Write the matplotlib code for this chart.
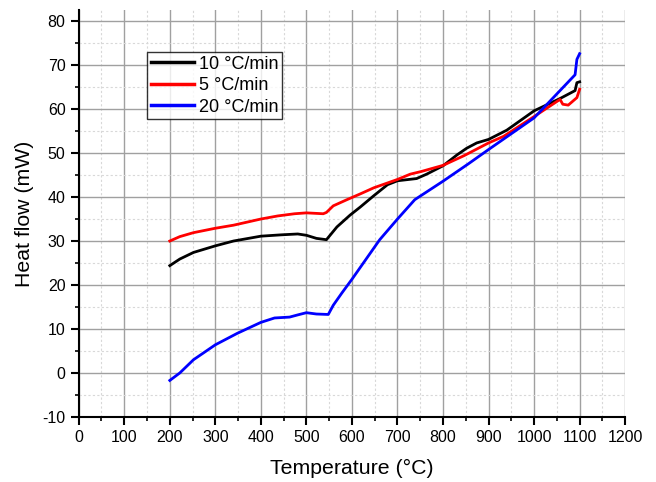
import numpy as np
import matplotlib
matplotlib.use("Agg")
import matplotlib.pyplot as plt
from matplotlib.ticker import MultipleLocator

plt.rcParams["font.family"] = ["Liberation Sans", "DejaVu Sans"]
plt.rcParams["axes.unicode_minus"] = False

# 10 C/min
t10 = [200, 222, 252, 300, 340, 400, 444, 481, 500, 522, 544, 567, 596, 618, 648, 678, 700,
       742, 764, 800, 831, 852, 874, 900, 940, 1000, 1057, 1090, 1094, 1100]
hf10 = [24.4, 25.9, 27.4, 28.9, 30.0, 31.1, 31.4, 31.6, 31.3, 30.6, 30.3, 33.2, 35.9, 37.7, 40.3, 42.8, 43.7,
        44.2, 45.2, 47.1, 49.6, 51.1, 52.3, 53.1, 55.2, 59.6, 62.4, 64.2, 66.0, 66.2]

# 5 C/min
t5 = [200, 222, 252, 300, 340, 400, 437, 474, 500, 537, 544, 559, 589, 618, 648, 700, 728,
      752, 800, 846, 900, 933, 1000, 1057, 1063, 1075, 1094, 1100]
hf5 = [30.0, 31.0, 31.9, 32.9, 33.6, 35.0, 35.7, 36.2, 36.4, 36.2, 36.5, 38.0, 39.4, 40.7, 42.1, 44.0, 45.2,
       45.8, 47.2, 49.4, 52.3, 53.8, 58.3, 62.2, 61.1, 60.9, 62.6, 64.5]

# 20 C/min
t20 = [200, 222, 252, 300, 348, 400, 430, 463, 481, 500, 522, 548, 559, 578, 600, 661, 700,
       738, 800, 855, 900, 1000, 1090, 1094, 1100]
hf20 = [-1.7, 0.0, 3.0, 6.4, 9.0, 11.5, 12.5, 12.7, 13.2, 13.7, 13.4, 13.3, 15.4, 18.2, 21.3, 30.3, 35.0,
        39.4, 43.6, 47.5, 50.8, 58.0, 67.8, 71.3, 72.6]

fig = plt.figure(figsize=(6.56, 4.82), dpi=100)
ax = fig.add_axes([0.120, 0.135, 0.833, 0.844])

ax.plot(t10, hf10, color="black", lw=2, label="10 °C/min")
ax.plot(t5, hf5, color="#ff0000", lw=2, label="5 °C/min")
ax.plot(t20, hf20, color="#0000ff", lw=2, label="20 °C/min")

ax.set_xlim(0, 1200)
ax.set_ylim(-10, 82.5)
ax.xaxis.set_major_locator(MultipleLocator(100))
ax.xaxis.set_minor_locator(MultipleLocator(50))
ax.yaxis.set_major_locator(MultipleLocator(10))
ax.yaxis.set_minor_locator(MultipleLocator(5))
ax.set_yticks(np.arange(-10, 81, 10))

ax.grid(which="major", color="#a0a0a0", lw=1, ls="-")
ax.grid(which="minor", color="#d8d8d8", lw=0.8, ls=(0, (2, 2)))
ax.set_axisbelow(True)

for s in ["top", "right"]:
    ax.spines[s].set_visible(False)
for s in ["left", "bottom"]:
    ax.spines[s].set_linewidth(1.5)

ax.tick_params(which="major", direction="out", length=6, width=1.5, labelsize=11.5)
ax.tick_params(which="minor", direction="out", length=3, width=1.2)

ax.set_xlabel("Temperature (°C)", fontsize=15.3, labelpad=10)
ax.set_ylabel("Heat flow (mW)", fontsize=15.3, labelpad=6)

leg = ax.legend(loc="upper left", bbox_to_anchor=(0.125, 0.897), fontsize=13,
                frameon=True, fancybox=False, edgecolor="black", handlelength=2.4,
                borderpad=0.2, labelspacing=0.25, handletextpad=0.3, borderaxespad=0)
leg.get_frame().set_linewidth(1)
for line in leg.get_lines():
    line.set_linewidth(2.5)

fig.savefig("out.png", dpi=100)
